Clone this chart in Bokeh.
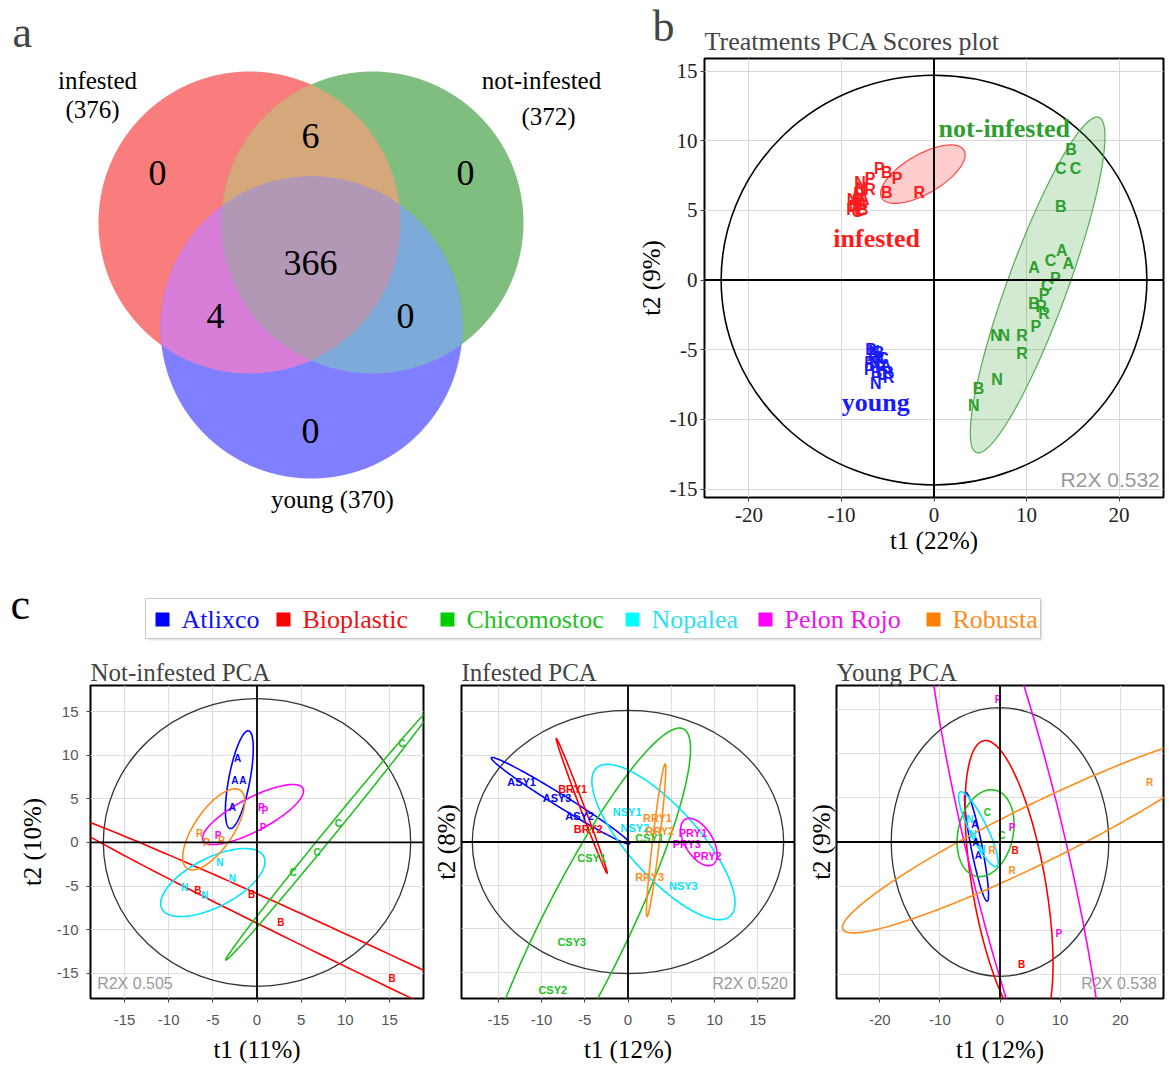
import numpy as np
from bokeh.plotting import figure
from bokeh.layouts import column, row
from bokeh.models import Range1d, Span, Title, FixedTicker, SingleIntervalTicker, CustomJSTickFormatter
from bokeh.core.properties import value
from bokeh.embed import file_html
from bokeh.resources import INLINE

SERIF = "Liberation Serif"
SANS = "Liberation Sans"

# ---------------- Panel a : Venn data ----------------
venn_sets = ["infested", "not-infested", "young"]
venn_totals = [376, 372, 370]
venn_cx = [249, 372, 311]
venn_cy = [222, 222, 327]
venn_r = 151
venn_counts = [0, 6, 0, 366, 4, 0, 0]          # I only, I&N, N only, all, I&Y, N&Y, Y only
venn_count_x = [157, 310, 465, 310, 215, 405, 310]
venn_count_y = [172, 135, 172, 262, 315, 315, 430]
venn_only_colors = ["#F97D7D", "#7FBE7F", "#7F7FFF"]
venn_pair_colors = {(0, 1): "#D5A87C", (0, 2): "#D87ED8", (1, 2): "#7DAAD8"}
venn_all_color = "#B298B4"

# ---------------- Panel b : Treatments PCA ----------------
b_groups = ["infested", "not-infested", "young"]
b_group_colors = ["#FF1A1A", "#2E9E2E", "#1A1AFF"]
b_group_label_x = [-6.2, 7.6, -6.3]
b_group_label_y = [3.0, 10.9, -8.8]
b_ell = {  # cx, cy, a, b, angle
    "infested": (-1.2, 7.6, 4.8, 1.5, 18.8),
    "not-infested": (11.2, -0.35, 13.75, 3.0, 60.4),
}
b_inf_letters = ["P", "B", "P", "N", "P", "R", "B", "R", "N", "N", "R", "B", "A", "C", "A", "N", "R", "B", "P", "C"]
b_inf_x = [-5.9, -5.1, -4.0, -8.0, -6.9, -6.9, -5.1, -1.6, -7.9, -8.6, -8.2, -7.9, -8.4, -8.0, -7.6, -8.8, -8.1, -7.7, -8.9, -8.3]
b_inf_y = [8.0, 7.7, 7.3, 7.0, 7.3, 6.5, 6.3, 6.3, 6.6, 5.3, 5.7, 5.4, 6.0, 5.0, 5.8, 5.8, 6.2, 5.1, 5.1, 4.9]
b_not_letters = ["B", "C", "C", "B", "A", "A", "C", "A", "P", "C", "P", "B", "R", "R", "P", "N", "N", "R", "R", "N", "B", "N"]
b_not_x = [14.8, 13.7, 15.3, 13.7, 13.8, 10.8, 12.6, 14.5, 13.1, 12.2, 11.9, 10.8, 11.6, 11.9, 11.0, 6.7, 7.6, 9.5, 9.5, 6.8, 4.8, 4.3]
b_not_y = [9.4, 8.0, 8.0, 5.3, 2.1, 0.9, 1.4, 1.2, 0.1, -0.4, -1.0, -1.7, -1.9, -2.4, -3.3, -4.0, -4.0, -4.0, -5.3, -7.1, -7.8, -9.0]
b_young_letters = ["A", "B", "C", "N", "P", "R", "A", "B", "C", "N", "P", "R", "A", "N", "R", "B"]
b_young_x = [-6.6, -6.0, -5.5, -6.4, -5.8, -6.9, -5.2, -6.2, -5.6, -6.5, -7.0, -5.0, -5.9, -6.3, -4.9, -6.8]
b_young_y = [-5.4, -5.2, -5.6, -6.0, -6.2, -5.9, -6.1, -6.6, -6.8, -5.1, -6.4, -6.6, -5.6, -7.4, -7.0, -5.0]

# ---------------- Panel c : cultivars ----------------
cultivars = ["Atlixco", "Bioplastic", "Chicomostoc", "Nopalea", "Pelon Rojo", "Robusta"]
cult_colors = ["#0000FF", "#FF0000", "#22C022", "#00E5FF", "#FF00FF", "#FF8C1A"]
legend_colors = ["#0000FF", "#FF0000", "#00CC00", "#00FFFF", "#FF00FF", "#FF8000"]
legend_text_colors = ["#1010F0", "#F01010", "#22C022", "#30E0F0", "#F010F0", "#FF8C1A"]

# ellipses per cultivar: cx, cy, a, b, angle
ni_ell = [(-2.0, 7.2, 5.7, 1.2, 79.4), (22.0, -18.1, 50.0, 1.75, -25.6), (8.4, 1.3, 19.0, 0.55, 51.1),
          (-5.0, -4.6, 6.5, 2.8, 27.6), (-0.45, 3.2, 6.4, 1.9, 28.0), (-4.9, 1.5, 5.4, 2.2, 56.3)]
inf_ell = [(-7.8, 4.75, 9.4, 0.7, -31.7), (-5.35, 4.15, 8.3, 0.25, -69.2), (-5.5, -11.0, 26.8, 5.0, 63.6),
           (4.1, 0.0, 11.5, 4.0, -47.8), (8.2, 0.0, 3.05, 1.6, -58.0), (3.25, 0.2, 8.85, 0.4, 83.2)]
yg_ell = [(-3.9, -0.55, 6.4, 0.9, -73.7), (1.5, -5.0, 17.0, 6.0, 105.3), (-2.4, 1.0, 5.3, 4.3, 50.0),
          (-3.6, 1.45, 5.2, 1.3, -53.0), (2.5, 0.0, 40.0, 8.0, -70.4), (6.1, 0.9, 34.0, 3.5, 18.3)]

ni_lab = ["A", "A", "A", "A", "P", "P", "P", "P", "R", "R", "R", "N", "N", "N", "N", "B", "B", "B", "B", "C", "C", "C", "C"]
ni_lab_c = [0, 0, 0, 0, 4, 4, 4, 4, 5, 5, 5, 3, 3, 3, 3, 1, 1, 1, 1, 2, 2, 2, 2]
ni_x = [-2.2, -2.5, -1.6, -2.8, 0.5, 0.9, 0.7, -4.4, -6.5, -5.7, -4.0, -4.2, -2.8, -8.2, -5.9, -6.7, -0.6, 2.7, 15.3, 4.1, 6.8, 9.2, 16.4]
ni_y = [9.6, 7.1, 7.1, 4.0, 4.0, 3.7, 1.7, 0.8, 1.0, 0.0, 0.2, -2.3, -4.1, -5.2, -6.1, -5.5, -6.0, -9.2, -15.6, -3.5, -1.2, 2.2, 11.4]

inf_lab = ["ASY1", "ASY3", "ASY2", "BRY1", "BRY2", "NSY1", "RRY1", "NSY2", "RRY2", "CSY1", "PRY1", "PRY3", "PRY2",
           "CSY1", "RRY3", "NSY3", "CSY3", "CSY2"]
inf_lab_c = [0, 0, 0, 1, 1, 3, 5, 3, 5, 2, 4, 4, 4, 2, 5, 3, 2, 2]
inf_x = [-12.3, -8.2, -5.6, -6.4, -4.6, -0.1, 3.4, 0.8, 3.7, 2.5, 7.5, 6.8, 9.2, -4.2, 2.5, 6.4, -6.5, -8.7]
inf_y = [6.9, 5.1, 3.0, 6.1, 1.5, 3.4, 2.8, 1.6, 1.3, 0.5, 1.0, -0.2, -1.6, -1.8, -4.0, -5.1, -11.5, -17.0]

yg_lab = ["P", "P", "P", "C", "C", "B", "B", "R", "R", "R", "A", "A", "A", "N", "N", "N"]
yg_lab_c = [4, 4, 4, 2, 2, 1, 1, 5, 5, 5, 0, 0, 0, 3, 3, 3]
yg_x = [-0.3, 2.0, 9.8, -2.1, 0.3, 2.5, 3.6, 2.0, 24.9, -1.3, -4.2, -4.0, -3.6, -5.0, -4.5, -3.0]
yg_y = [16.1, 1.6, -10.3, 3.3, 0.7, -1.0, -13.9, -3.2, 6.7, -1.0, 2.0, 0.0, -1.5, 2.5, 0.8, -0.8]

HYPHEN = CustomJSTickFormatter(code="return String(tick);")


def ellipse_pts(cx, cy, a, b, ang, n=240):
    t = np.linspace(0, 2 * np.pi, n)
    th = np.deg2rad(ang)
    x = cx + a * np.cos(t) * np.cos(th) - b * np.sin(t) * np.sin(th)
    y = cy + a * np.cos(t) * np.sin(th) + b * np.sin(t) * np.cos(th)
    return x, y


def circle_pts(cx, cy, r, n=1440):
    t = np.linspace(0, 2 * np.pi, n, endpoint=False)
    return cx + r * np.cos(t), cy + r * np.sin(t)


def intersect_poly(circs):
    xs, ys = [], []
    for i, c in enumerate(circs):
        px, py = circle_pts(*c)
        m = np.ones_like(px, dtype=bool)
        for j, d in enumerate(circs):
            if j != i:
                m &= (px - d[0]) ** 2 + (py - d[1]) ** 2 <= d[2] ** 2 + 1e-6
        xs.append(px[m])
        ys.append(py[m])
    X = np.concatenate(xs)
    Y = np.concatenate(ys)
    o = np.argsort(np.arctan2(Y - Y.mean(), X - X.mean()))
    return X[o], Y[o]


def set_standoff(obj, attr, v, fallback):
    try:
        setattr(obj, attr, v)
    except Exception:
        setattr(obj, attr, fallback)


# ================= layout geometry (window pixels) =================
TOP_H = 565
FRAME_TOP, FRAME_BOT = 58, 497
PA_W = 634
PB_W = 532

# ================= Venn figure =================
pa = figure(width=PA_W, height=TOP_H, x_range=Range1d(30, PA_W), y_range=Range1d(FRAME_BOT, FRAME_TOP),
            output_backend="svg", toolbar_location=None, title="a",
            min_border_left=30, min_border_right=0, min_border_top=FRAME_TOP,
            min_border_bottom=TOP_H - FRAME_BOT)
pa.title.text_font = SERIF
pa.title.text_font_size = "44px"
pa.title.text_font_style = "normal"
pa.title.align = "left"
pa.title.offset = -18
pa.title.standoff = 4
pa.yaxis.visible = False
pa.grid.visible = False
pa.outline_line_color = None
pa.xaxis.ticker = FixedTicker(ticks=[])
pa.xaxis.axis_line_color = None
pa.xaxis.major_tick_out = 0
pa.xaxis.major_tick_in = 0
pa.xaxis.major_label_standoff = 0
pa.xaxis.axis_label = "%s (%d)" % (venn_sets[2], venn_totals[2])
pa.xaxis.axis_label_text_font = SERIF
pa.xaxis.axis_label_text_font_size = "25px"
pa.xaxis.axis_label_text_font_style = "normal"
pa.xaxis.axis_label_text_color = "black"
set_standoff(pa.xaxis[0], "axis_label_standoff", -12, 0)

circs = [(venn_cx[i], venn_cy[i], venn_r) for i in range(3)]
for i in range(3):
    x, y = circle_pts(*circs[i])
    pa.patch(x, y, fill_color=venn_only_colors[i], line_color=None)
for (i, j), col in venn_pair_colors.items():
    x, y = intersect_poly([circs[i], circs[j]])
    pa.patch(x, y, fill_color=col, line_color=None)
x, y = intersect_poly(circs)
pa.patch(x, y, fill_color=venn_all_color, line_color=None)
pa.text(x=venn_count_x, y=venn_count_y, text=[str(c) for c in venn_counts],
        text_font=value(SERIF), text_font_size="36px", text_align="center", text_baseline="middle",
        text_color="black")
set_lab_text = [venn_sets[0], "(%d)" % venn_totals[0], venn_sets[1], "(%d)" % venn_totals[1]]
pa.text(x=[97, 92, 541, 548], y=[80, 109, 80, 116], text=set_lab_text,
        text_font=value(SERIF), text_font_size="25px", text_align="center", text_baseline="middle",
        text_color="black")


def style_axes(p, tick_font, tick_size, tick_color, label_size):
    for ax in list(p.xaxis) + list(p.yaxis):
        ax.axis_line_color = None
        ax.major_tick_line_color = "#444444"
        ax.major_tick_out = 4
        ax.major_tick_in = 0
        ax.minor_tick_line_color = None
        ax.major_label_text_font = tick_font
        ax.major_label_text_font_size = tick_size
        ax.major_label_text_color = tick_color
        ax.axis_label_text_font = SERIF
        ax.axis_label_text_font_size = label_size
        ax.axis_label_text_font_style = "normal"
        ax.axis_label_text_color = "black"
        ax.formatter = HYPHEN


# ================= Panel b =================
bx = (-24.8, 24.8)
by = (-15.6, 15.9)
pb = figure(width=PB_W, height=TOP_H, x_range=Range1d(*bx), y_range=Range1d(*by),
            output_backend="svg", toolbar_location=None, title=None,
            min_border_left=64, min_border_right=3, min_border_top=FRAME_TOP,
            min_border_bottom=TOP_H - FRAME_BOT,
            x_axis_label="t1 (22%)", y_axis_label="t2 (9%)")
t_main = Title(text="Treatments PCA Scores plot", text_font=SERIF, text_font_size="26px",
               text_font_style="normal", align="left", standoff=6)
pb.add_layout(t_main, "above")
t_b = Title(text="b", text_font=SERIF, text_font_size="44px", text_font_style="normal",
            align="left", offset=-52)
set_standoff(t_b, "standoff", -58, 0)
pb.add_layout(t_b, "above")
style_axes(pb, SERIF, "21px", "#222222", "25px")
pb.xaxis.ticker = SingleIntervalTicker(interval=10)
pb.yaxis.ticker = SingleIntervalTicker(interval=5)
pb.xaxis.major_label_standoff = 6
pb.yaxis.major_label_standoff = 3
pb.xaxis.axis_label_standoff = 2
pb.yaxis.axis_label_standoff = 2
pb.grid.grid_line_color = "#d8d8d8"
pb.outline_line_color = "black"
pb.outline_line_width = 2
pb.add_layout(Span(location=0, dimension="width", line_color="black", line_width=2))
pb.add_layout(Span(location=0, dimension="height", line_color="black", line_width=2))
pb.ellipse(x=[0], y=[0], width=[46.0], height=[29.4], fill_color=None, line_color="black", line_width=1.6)
for g, col in [("infested", b_group_colors[0]), ("not-infested", b_group_colors[1])]:
    ex, ey = ellipse_pts(*b_ell[g])
    pb.patch(ex, ey, fill_color=col, fill_alpha=0.22, line_color=col, line_width=1.2, line_alpha=0.8)
for lx, ly, lt, col in [(b_inf_x, b_inf_y, b_inf_letters, b_group_colors[0]),
                        (b_not_x, b_not_y, b_not_letters, b_group_colors[1]),
                        (b_young_x, b_young_y, b_young_letters, b_group_colors[2])]:
    pb.text(x=lx, y=ly, text=lt, text_color=col, text_font=value(SANS), text_font_style=value("bold"),
            text_font_size="16px", text_align="center", text_baseline="middle")
pb.text(x=b_group_label_x, y=b_group_label_y, text=b_groups, text_color=b_group_colors,
        text_font=value(SERIF), text_font_style=value("bold"), text_font_size="26px",
        text_align="center", text_baseline="middle")
pb.text(x=[bx[1] - 0.4], y=[by[0] + 0.5], text=["R2X 0.532"], text_color="#999999",
        text_font=value(SANS), text_font_size="21px", text_align="right", text_baseline="bottom")

# ================= Legend row =================
TOTAL_W = PA_W + PB_W
LH = 85
pl = figure(width=TOTAL_W, height=LH, x_range=Range1d(0, TOTAL_W), y_range=Range1d(TOP_H + LH, TOP_H),
            output_backend="svg", toolbar_location=None, min_border=0)
pl.axis.visible = False
pl.grid.visible = False
pl.outline_line_color = None
pl.quad(left=[147], right=[1042], top=[600], bottom=[640], fill_color="#e8e8e8", line_color=None)
pl.quad(left=[145], right=[1040], top=[598], bottom=[638], fill_color="white", line_color="#c8c8c8")
leg_sq_x = [162, 283, 447, 632, 765, 933]
pl.scatter(x=leg_sq_x, y=[619] * 6, marker="square", size=14, fill_color=legend_colors, line_color=None)
pl.text(x=[v + 19 for v in leg_sq_x], y=[619] * 6, text=cultivars, text_color=legend_text_colors,
        text_font=value(SERIF), text_font_size="26px", text_align="left", text_baseline="middle")
pl.text(x=[10], y=[604], text=["c"], text_font=value(SERIF), text_font_size="44px",
        text_align="left", text_baseline="middle", text_color="black")


def small_plot(title, xr, yr, xstep, ylabels, width, left, right, xlabel, ylabel, r2x, r2x_left,
               ells, lab, lab_c, lx, ly, lab_size):
    p = figure(width=width, height=420, x_range=Range1d(*xr), y_range=Range1d(*yr),
               output_backend="svg", toolbar_location=None,
               min_border_left=left, min_border_right=right, min_border_top=35, min_border_bottom=72,
               title=title, x_axis_label=xlabel, y_axis_label=ylabel)
    p.title.text_font = SERIF
    p.title.text_font_size = "25px"
    p.title.text_font_style = "normal"
    p.title.align = "left"
    p.title.standoff = 0
    style_axes(p, SANS, "15px", "#555555", "25px")
    p.xaxis.ticker = SingleIntervalTicker(interval=xstep)
    p.xgrid.ticker = SingleIntervalTicker(interval=xstep)
    if ylabels:
        p.yaxis.ticker = SingleIntervalTicker(interval=5)
        p.yaxis.axis_label_standoff = 8
    else:
        p.yaxis.ticker = FixedTicker(ticks=[])
        p.yaxis.axis_label_standoff = 2
    p.ygrid.ticker = SingleIntervalTicker(interval=5)
    p.xaxis.major_label_standoff = 12
    p.xaxis.axis_label_standoff = 8
    p.yaxis.major_label_standoff = 8
    p.grid.grid_line_color = "#dddddd"
    p.outline_line_color = "black"
    p.outline_line_width = 2
    p.add_layout(Span(location=0, dimension="width", line_color="black", line_width=1.8))
    p.add_layout(Span(location=0, dimension="height", line_color="black", line_width=1.8))
    rx = ells[0]
    p.ellipse(x=[0], y=[0], width=[2 * rx[0]], height=[2 * rx[1]], fill_color=None,
              line_color="#333333", line_width=1.3)
    for k, e in enumerate(ells[1]):
        ex, ey = ellipse_pts(*e)
        p.line(ex, ey, line_color=cult_colors[k], line_width=1.6)
    p.text(x=lx, y=ly, text=lab, text_color=[cult_colors[c] for c in lab_c], text_font=value(SANS),
           text_font_style=value("bold"), text_font_size=lab_size, text_align="center",
           text_baseline="middle")
    if r2x_left:
        tx, ta = xr[0] + 0.02 * (xr[1] - xr[0]), "left"
    else:
        tx, ta = xr[1] - 0.02 * (xr[1] - xr[0]), "right"
    p.text(x=[tx], y=[yr[0] + 0.02 * (yr[1] - yr[0])], text=[r2x],
           text_color="#999999", text_font=value(SANS), text_font_size="16px",
           text_align=ta, text_baseline="bottom")
    return p


c1 = small_plot("Not-infested PCA", (-18.85, 18.85), (-17.9, 18.0), 5, True, 425, 90, 2,
                "t1 (11%)", "t2 (10%)", "R2X 0.505", True, ((17.4, 16.5), ni_ell),
                ni_lab, ni_lab_c, ni_x, ni_y, "10px")
c2 = small_plot("Infested PCA", (-19.25, 19.25), (-18.0, 18.0), 5, False, 375, 36, 6,
                "t1 (12%)", "t2 (8%)", "R2X 0.520", False, ((18.0, 15.15), inf_ell),
                inf_lab, inf_lab_c, inf_x, inf_y, "11px")
c3 = small_plot("Young PCA", (-27.2, 27.2), (-17.7, 17.7), 10, False, TOTAL_W - 800, 36, 3,
                "t1 (12%)", "t2 (9%)", "R2X 0.538", False, ((18.1, 15.2), yg_ell),
                yg_lab, yg_lab_c, yg_x, yg_y, "10px")

layout = column(row(pa, pb), pl, row(c1, c2, c3))
open("out.html", "w").write(file_html(layout, INLINE))
